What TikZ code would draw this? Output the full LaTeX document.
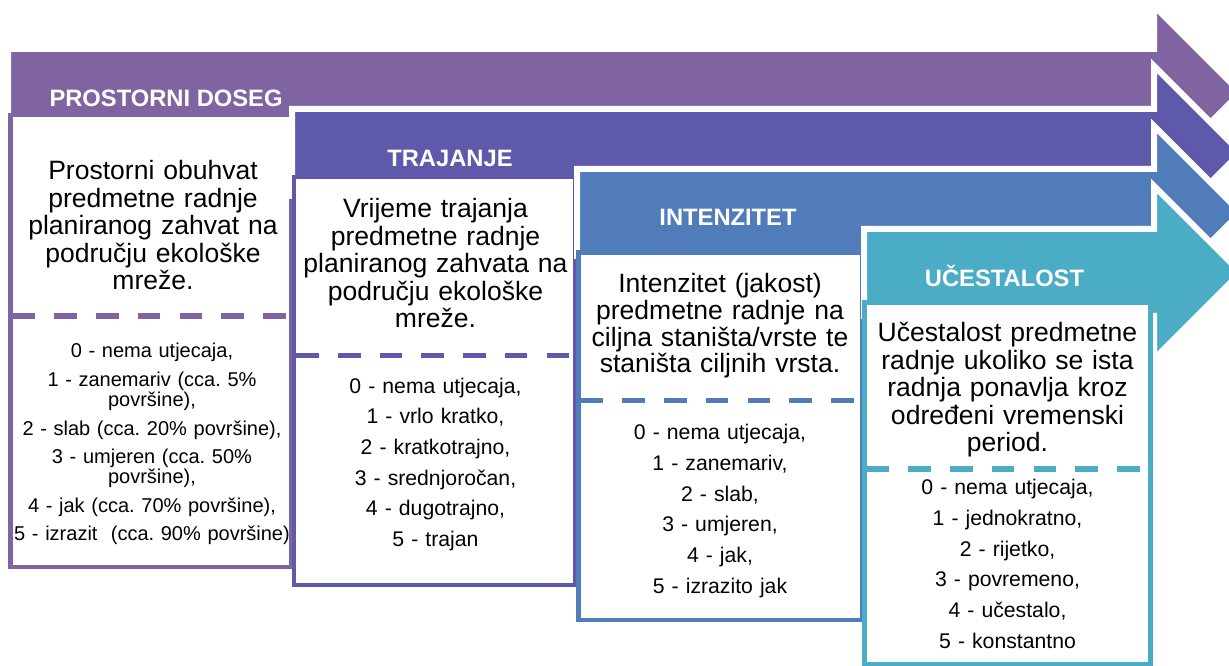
\documentclass[tikz,border=0pt]{standalone}
\usepackage{fontspec}
\setmainfont{Liberation Sans}
\definecolor{cA}{HTML}{8064A2}
\definecolor{cB}{HTML}{5E59AA}
\definecolor{cC}{HTML}{507CB9}
\definecolor{cD}{HTML}{4BACC6}
\newcommand{\procarrow}[3]{%
  \filldraw[fill=#1, draw=white, line width=4.5pt, line join=miter]
    (#2,{#3-3}) -- (1154,{#3-3}) -- (1154,{#3-46}) -- (1240.5,{#3+40.5})
    -- (1154,{#3+127}) -- (1154,{#3+84}) -- (#2,{#3+84}) -- cycle;
}
\begin{document}
\frenchspacing
\begin{tikzpicture}[x=0.75pt,y=-0.75pt,
  hdr/.style={anchor=base, text=white, inner sep=0pt,
    font=\fontsize{17.8pt}{20pt}\selectfont\bfseries},
  desc/.style={anchor=base, align=center, text width=210pt, inner sep=0pt,
    font=\fontsize{19.9pt}{20.6pt}\selectfont},
  lst/.style={anchor=base, align=center, text width=210pt, inner sep=0pt,
    font=\fontsize{15.9pt}{23pt}\selectfont},
  lstA/.style={anchor=base, align=center, text width=210pt, inner sep=0pt,
    font=\fontsize{15pt}{15pt}\selectfont},
  boxframe/.style={draw=#1, fill=white, line width=3.4pt},
  sep/.style={draw=#1, line width=4.1pt, dash pattern=on 16.9pt off 14.4pt}]
\useasboundingbox (0,0) rectangle (1229,666);

% ---- stage 1
\procarrow{cA}{8}{52}
\draw[boxframe=cA] (10.5,115) rectangle (291,567);
\draw[sep=cA] (12.75,316) -- (288.75,316);
\node[hdr] (h1) at (166,107) {PROSTORNI DOSEG};
\node[desc] (d1) at (153,180) {Prostorni obuhvat\\ predmetne radnje\\ planiranog zahvat na\\ području ekološke\\ mreže.};
\node[lstA] (l1) at (152,358) {0 - nema utjecaja,\\[6.4pt] 1 - zanemariv (cca. 5\%\\ površine),\\[6.4pt] 2 - slab (cca. 20\% površine),\\[6.4pt] 3 - umjeren (cca. 50\%\\ površine),\\[6.4pt] 4 - jak (cca. 70\% površine),\\[6.4pt] 5 - izrazit\ \ (cca. 90\% površine)};

% ---- stage 2
\procarrow{cB}{292}{112}
\draw[boxframe=cB] (294,177) rectangle (575,585);
\draw[sep=cB] (296.25,355.5) -- (572.75,355.5);
\node[hdr] (h2) at (450,167) {TRAJANJE};
\node[desc] (d2) at (435.5,218) {Vrijeme trajanja\\ predmetne radnje\\ planiranog zahvata na\\ području ekološke\\ mreže.};
\node[lst] (l2) at (435.5,393.3) {0 - nema utjecaja,\\ 1 - vrlo kratko,\\ 2 - kratkotrajno,\\ 3 - srednjoročan,\\ 4 - dugotrajno,\\ 5 - trajan};

% ---- stage 3
\procarrow{cC}{577}{172}
\draw[boxframe=cC] (578.5,252.5) rectangle (862,620);
\draw[sep=cC] (580.75,400.5) -- (859.75,400.5);
\node[hdr] (h3) at (728,226) {INTENZITET};
\node[desc, font=\fontsize{19.9pt}{20pt}\selectfont] (d3) at (720,293) {Intenzitet (jakost)\\ predmetne radnje na\\ ciljna staništa/vrste te\\ staništa ciljnih vrsta.};
\node[lst] (l3) at (720,440) {0 - nema utjecaja,\\ 1 - zanemariv,\\ 2 - slab,\\ 3 - umjeren,\\ 4 - jak,\\ 5 - izrazito jak};

% ---- stage 4
\procarrow{cD}{864}{232}
\draw[boxframe=cD] (864.5,302.5) rectangle (1150.5,664);
\draw[sep=cD] (866.75,469) -- (1148.25,469);
\node[hdr] (h4) at (1004.5,287) {UČESTALOST};
\node[desc] (d4) at (1007.5,342) {Učestalost predmetne\\ radnje ukoliko se ista\\ radnja ponavlja kroz\\ određeni vremenski\\ period.};
\node[lst] (l4) at (1007.5,495) {0 - nema utjecaja,\\ 1 - jednokratno,\\ 2 - rijetko,\\ 3 - povremeno,\\ 4 - učestalo,\\ 5 - konstantno};
\end{tikzpicture}
\end{document}
